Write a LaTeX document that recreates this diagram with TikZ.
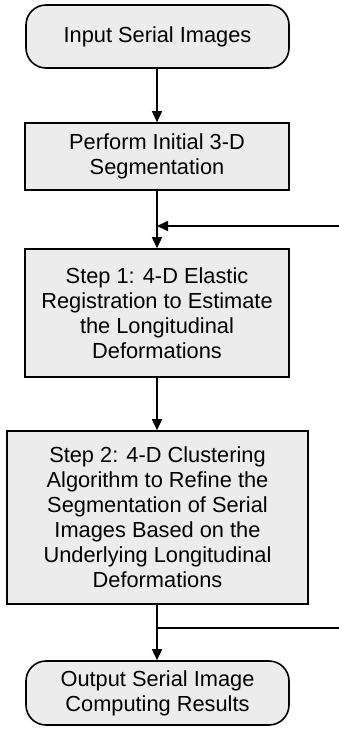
\documentclass[tikz,border=0pt]{standalone}
\usepackage{fontspec}
\setmainfont{Liberation Sans}
\usetikzlibrary{arrows.meta}
\begin{document}
\begin{tikzpicture}[x=1pt,y=1pt,
  box/.style={draw=black, line width=1.6pt, fill=boxgray, align=center,
    font=\fontsize{21.8}{25}\selectfont, inner sep=0pt},
  term/.style={box, rounded corners=20pt},
  conn/.style={line width=1.6pt, draw=black},
  arr/.style={conn, -{Triangle[length=11pt,width=10pt]}}]
\definecolor{boxgray}{RGB}{236,236,236}
\useasboundingbox (0,0) rectangle (339,-729);
\node[term, minimum width=263pt, minimum height=63pt] (in) at (157.5,-36.5) {Input Serial Images};
\node[box, minimum width=264pt, minimum height=67pt] (seg) at (157,-156.5) {Perform Initial 3-D\\Segmentation};
\node[box, minimum width=264pt, minimum height=128pt] (s1) at (157,-313) {Step 1: 4-D Elastic\\Registration to Estimate\\the Longitudinal\\Deformations};
\node[box, minimum width=301pt, minimum height=173pt] (s2) at (157.5,-517.5) {Step 2: 4-D Clustering\\Algorithm to Refine the\\Segmentation of Serial\\Images Based on the\\Underlying Longitudinal\\Deformations};
\node[term, minimum width=263pt, minimum height=64pt] (out) at (157.5,-693) {Output Serial Image\\Computing Results};
\coordinate (fbin) at (339,-226);
\coordinate (fbj) at (157,-226);
\coordinate (fbout) at (339,-628);
\coordinate (fbs) at (157,-628);
\draw[arr] (in.south -| fbj) -- (seg.north -| fbj);
\draw[arr] (seg.south -| fbj) -- (s1.north -| fbj);
\draw[arr] (fbin) -- (fbj);
\draw[arr] (s1.south -| fbj) -- (s2.north -| fbj);
\draw[arr] (s2.south -| fbj) -- (out.north -| fbj);
\draw[conn] (fbs) -- (fbout);
\end{tikzpicture}
\end{document}
